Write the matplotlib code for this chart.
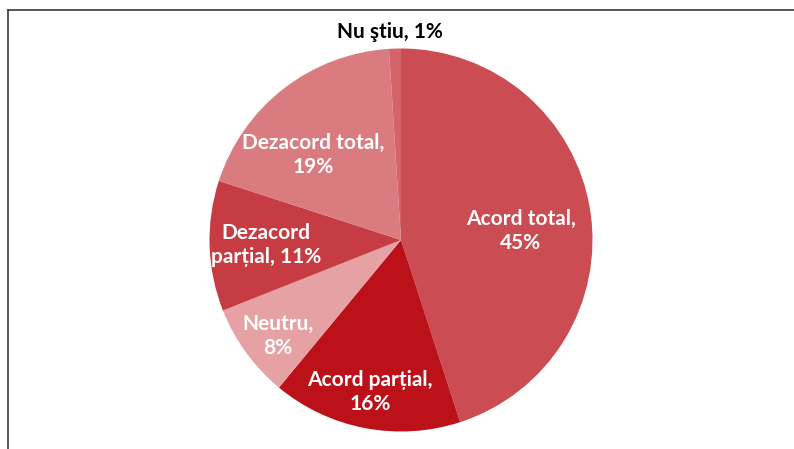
import numpy as np
import matplotlib.pyplot as plt
from matplotlib.lines import Line2D

# date
categorii = ["Acord total", "Acord parțial", "Neutru", "Dezacord parțial",
             "Dezacord total", "Nu ştiu"]
procente = [45, 16, 8, 11, 19, 1]
etichete = ["Acord total,\n45%", "Acord parțial,\n16%", "Neutru,\n8%",
            "Dezacord\nparțial, 11%", "Dezacord total,\n19%", "Nu ştiu, 1%"]

culori = ["#CB4C52", "#BD111A", "#E5A1A4", "#C73B43", "#DA7B80", "#D5636A"]
# pozitia etichetelor: (distanta fata de centru, unghi in grade)
pozitii = [(0.628, 4.3), (0.81, -101.6), (0.817, -142), (0.705, -178),
           (0.64, 135.8), (1.087, 93)]

W, H = 794, 449
fig = plt.figure(figsize=(W / 100, H / 100), dpi=100)
cx, cy, r = 401, 240, 191.5
ax = fig.add_axes([(cx - r) / W, (H - cy - r) / H, 2 * r / W, 2 * r / H])
ax.pie(procente, colors=culori, startangle=90, counterclock=False, radius=1,
       wedgeprops=dict(linewidth=0))
ax.set_xlim(-1, 1)
ax.set_ylim(-1, 1)
ax.set_aspect("equal")
ax.axis("off")

for i, txt in enumerate(etichete):
    d, a = pozitii[i]
    x, y = d * np.cos(np.radians(a)), d * np.sin(np.radians(a))
    col = "black" if i == len(etichete) - 1 else "white"
    ax.text(x, y, txt, ha="center", va="center", color=col, fontsize=15,
            fontweight="bold", family=["Lato", "DejaVu Sans"],
            linespacing=1.25, clip_on=False)

# chenar (partial, imaginea e decupata)
x0, y0 = 7.5 / W, 1 - 9.5 / H
fig.add_artist(Line2D([x0, 1], [y0, y0], transform=fig.transFigure,
                      color="#3a3a3a", lw=1.2))
fig.add_artist(Line2D([x0, x0], [0, y0], transform=fig.transFigure,
                      color="#3a3a3a", lw=1.2))

fig.savefig("out.png", dpi=100)
